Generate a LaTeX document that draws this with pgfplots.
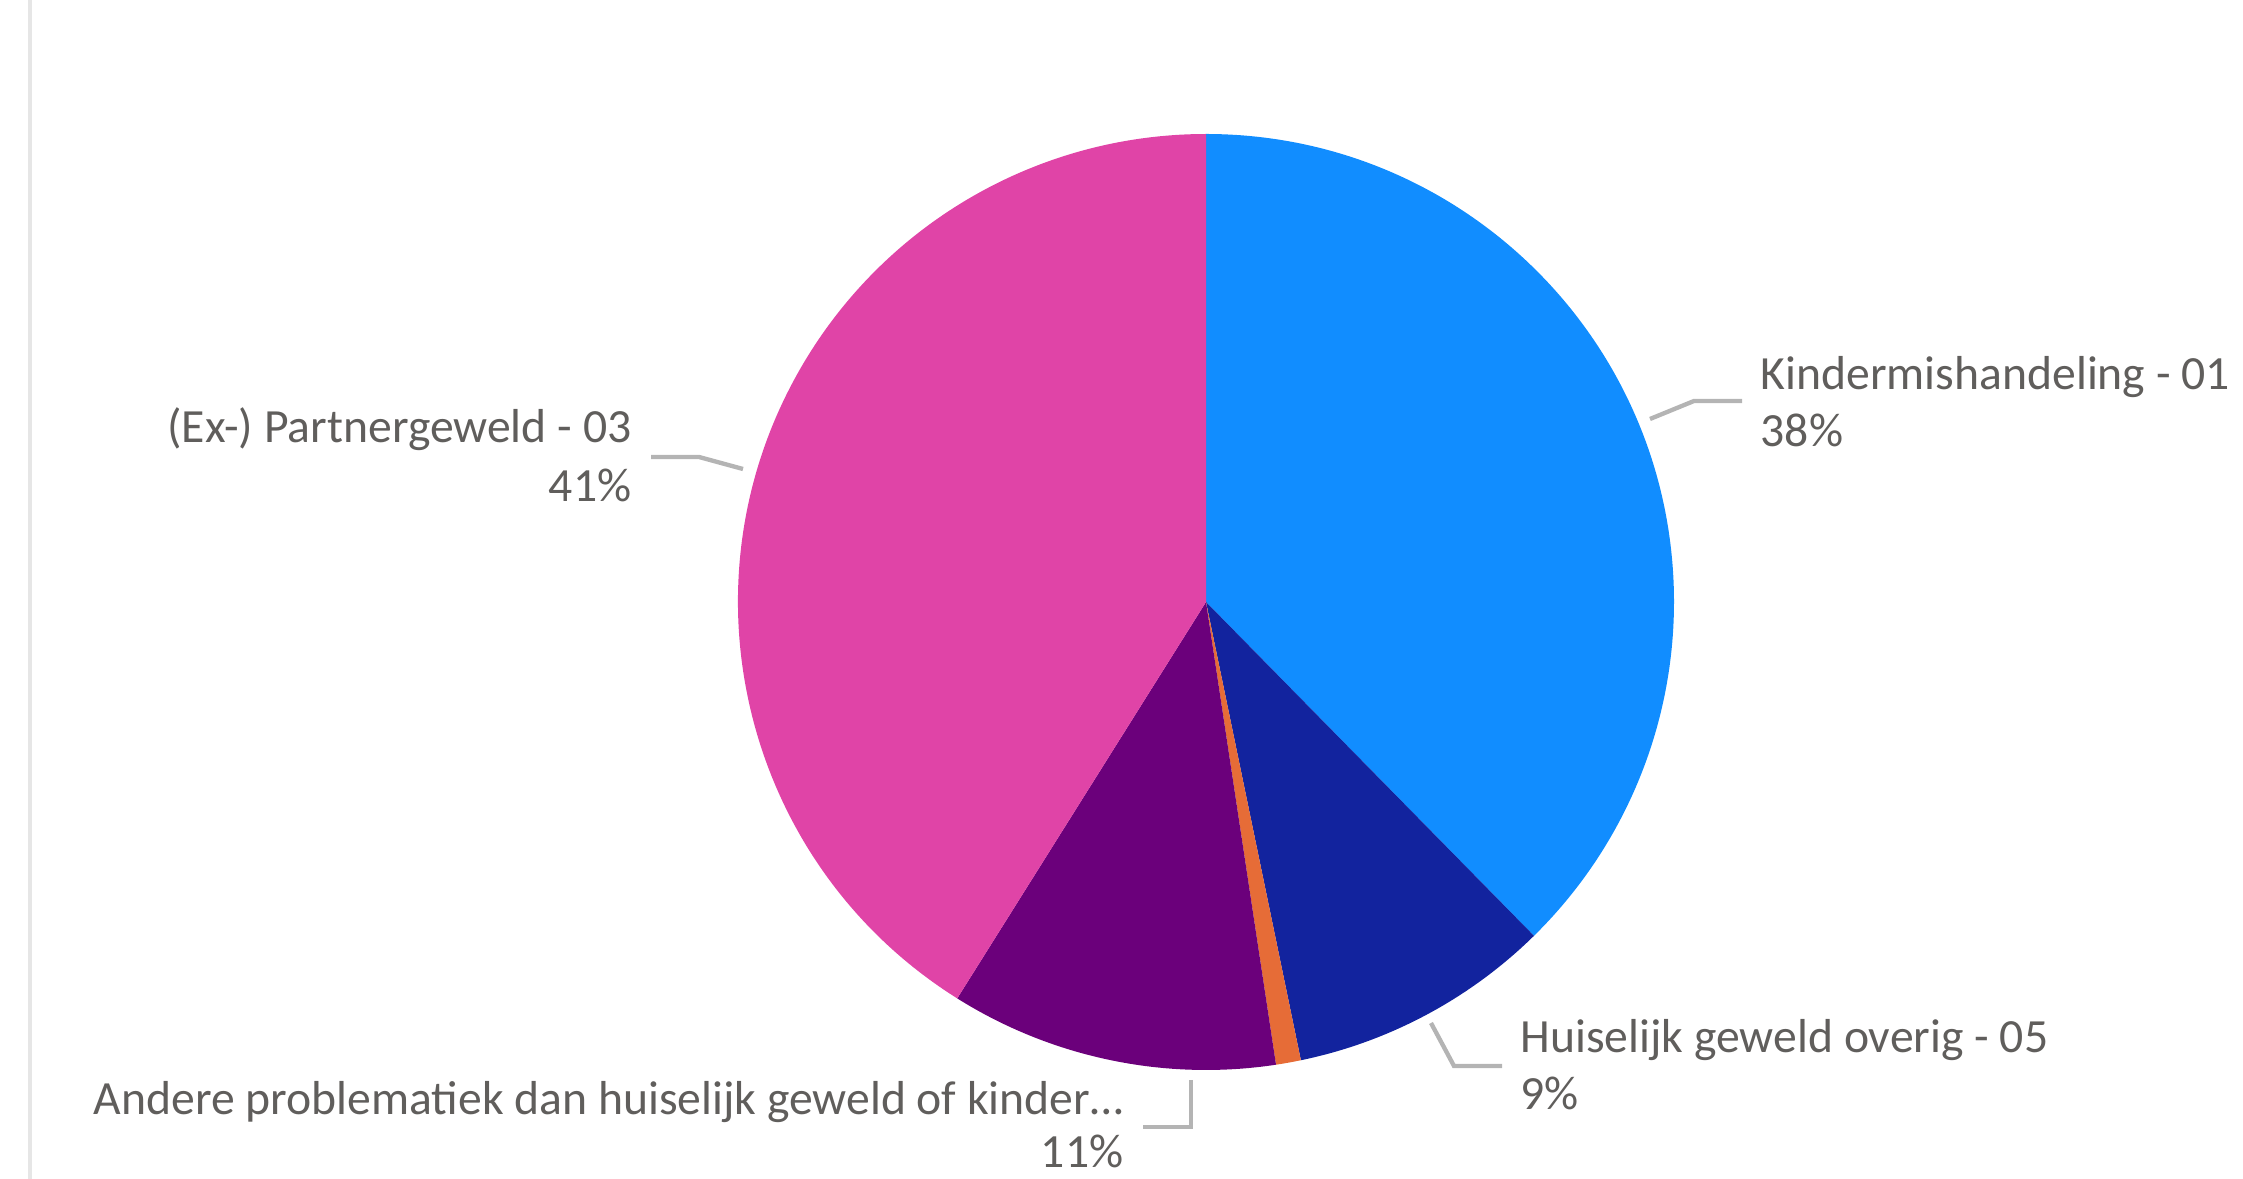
\documentclass[border=0pt]{standalone}
\usepackage{pgfplots}
\usepackage{pgfplotstable}
\pgfplotsset{compat=1.18}
\usepackage{fontspec}
\setmainfont{Carlito}
\definecolor{pbBlue}{HTML}{118DFF}
\definecolor{pbNavy}{HTML}{12239E}
\definecolor{pbOrange}{HTML}{E66C37}
\definecolor{pbPurple}{HTML}{6B007B}
\definecolor{pbPink}{HTML}{E044A7}
\definecolor{lbl}{HTML}{605E5C}
\definecolor{lead}{HTML}{B4B4B4}
\definecolor{edge}{HTML}{E6E6E6}
\tikzset{lab/.style={font=\fontsize{14.3}{17}\selectfont, text=lbl, inner sep=0pt}}

\pgfplotstableread{
idx value
0 37.64
1 9.11
2 0.86
3 11.31
4 41.08
}\piedata

\begin{document}%
\pgfplotstablegetelem{0}{value}\of\piedata\let\vA\pgfplotsretval%
\pgfplotstablegetelem{1}{value}\of\piedata\let\vB\pgfplotsretval%
\pgfplotstablegetelem{2}{value}\of\piedata\let\vC\pgfplotsretval%
\pgfplotstablegetelem{3}{value}\of\piedata\let\vD\pgfplotsretval%
\pgfplotstablegetelem{4}{value}\of\piedata\let\vE\pgfplotsretval%
\pgfmathsetmacro\aA{90}%
\pgfmathsetmacro\aB{\aA-3.6*\vA}%
\pgfmathsetmacro\aC{\aB-3.6*\vB}%
\pgfmathsetmacro\aD{\aC-3.6*\vC}%
\pgfmathsetmacro\aE{\aD-3.6*\vD}%
\pgfmathsetmacro\aF{\aE-3.6*\vE}%
\begin{tikzpicture}
\begin{axis}[
  width=672.9pt, height=353.7pt, scale only axis,
  xmin=0, xmax=2243, ymin=0, ymax=1179,
  hide axis, clip=false,
]
% left border line
\draw[edge, line width=1.2pt] (axis cs:30,0) -- (axis cs:30,1179);
% pie slices
\def\R{140.4pt}
\fill[pbBlue]   (axis cs:1206,577) -- ++(\aA:\R) arc[start angle=\aA, end angle=\aB, radius=\R] -- cycle;
\fill[pbNavy]   (axis cs:1206,577) -- ++(\aB:\R) arc[start angle=\aB, end angle=\aC, radius=\R] -- cycle;
\fill[pbOrange] (axis cs:1206,577) -- ++(\aC:\R) arc[start angle=\aC, end angle=\aD, radius=\R] -- cycle;
\fill[pbPurple] (axis cs:1206,577) -- ++(\aD:\R) arc[start angle=\aD, end angle=\aE, radius=\R] -- cycle;
\fill[pbPink]   (axis cs:1206,577) -- ++(\aE:\R) arc[start angle=\aE, end angle=\aF, radius=\R] -- cycle;
% leader lines
\draw[lead, line width=1.3pt] (axis cs:1650,760) -- (axis cs:1694,778) -- (axis cs:1742,778);
\draw[lead, line width=1.3pt] (axis cs:743,710) -- (axis cs:699,722) -- (axis cs:651,722);
\draw[lead, line width=1.3pt] (axis cs:1191,99) -- (axis cs:1191,52) -- (axis cs:1143,52);
\draw[lead, line width=1.3pt] (axis cs:1431,156) -- (axis cs:1454,113) -- (axis cs:1502,113);
% labels
\node[lab, anchor=base west] at (axis cs:1760,789) {Kindermishandeling - 01};
\node[lab, anchor=base west] at (axis cs:1760,732) {38\%};
\node[lab, anchor=base east] at (axis cs:632,736) {(Ex-) Partnergeweld - 03};
\node[lab, anchor=base east] at (axis cs:632,677) {41\%};
\node[lab, anchor=base east] at (axis cs:1124,64) {Andere problematiek dan huiselijk geweld of kinder…};
\node[lab, anchor=base east] at (axis cs:1124,11) {11\%};
\node[lab, anchor=base west] at (axis cs:1520,126) {Huiselijk geweld overig - 05};
\node[lab, anchor=base west] at (axis cs:1520,69) {9\%};
\end{axis}
\pgfresetboundingbox
\path (current axis.south west) rectangle (current axis.north east);
\end{tikzpicture}%
\end{document}
